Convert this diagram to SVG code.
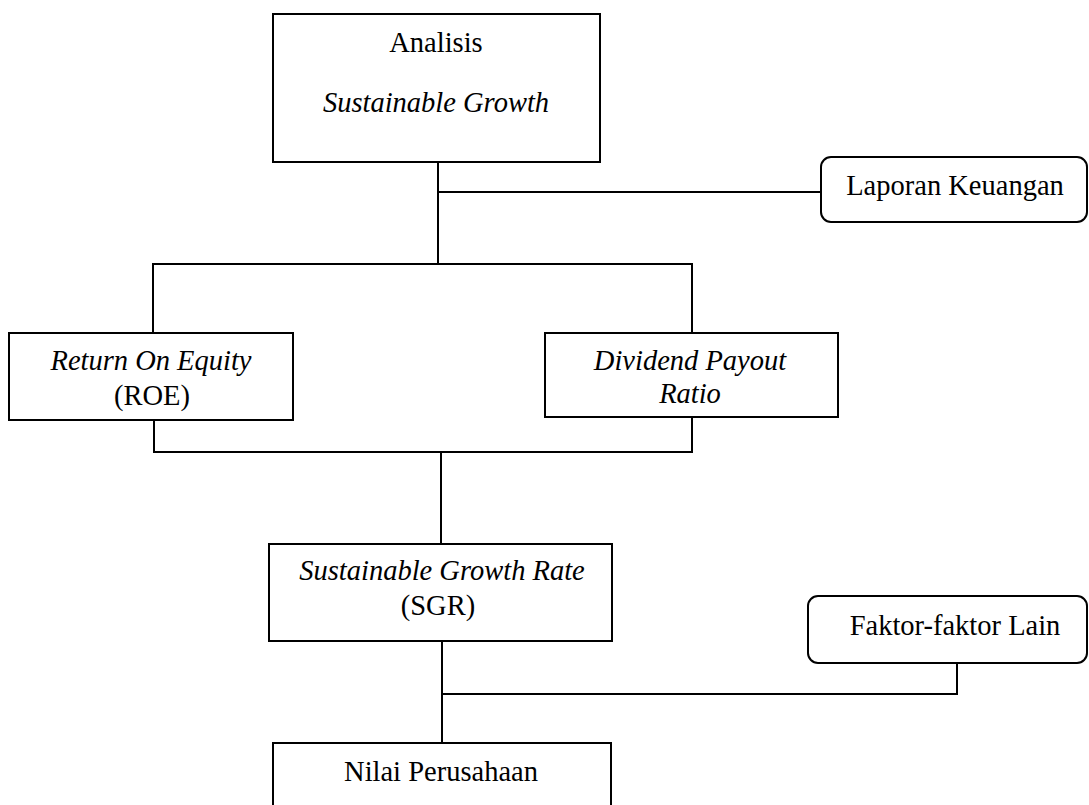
<svg xmlns="http://www.w3.org/2000/svg" width="1089" height="805" viewBox="0 0 1089 805" font-family="'Liberation Serif', 'Times New Roman', Times, serif">
<style>
.box{fill:#fff;stroke:#000;stroke-width:2}
.ln{fill:none;stroke:#000;stroke-width:2}
text{font-size:28.5px;fill:#000;text-anchor:middle}
.i{font-style:italic}
</style>
<rect width="1089" height="805" fill="#fff"/>
<g id="connectors">
<path class="ln" d="M438 162V264M438 192H821M153 333V264H692V333"/>
<path class="ln" d="M154 420V452H692V417M441 452V544"/>
<path class="ln" d="M442 641V743M442 694H957V663"/>
</g>
<g id="analisis">
<rect class="box" x="273" y="14" width="327" height="148"/>
<text x="436" y="52">Analisis</text>
<text class="i" x="436" y="112">Sustainable Growth</text>
</g>
<g id="laporan">
<rect class="box" x="821" y="157" width="266" height="65" rx="10"/>
<text x="955" y="195">Laporan Keuangan</text>
</g>
<g id="roe">
<rect class="box" x="9" y="333" width="284" height="87"/>
<text class="i" x="151" y="370">Return On Equity</text>
<text x="152" y="405">(ROE)</text>
</g>
<g id="dpr">
<rect class="box" x="545" y="333" width="293" height="84"/>
<text class="i" x="690" y="370">Dividend Payout</text>
<text class="i" x="690" y="403">Ratio</text>
</g>
<g id="sgr">
<rect class="box" x="269" y="544" width="343" height="97"/>
<text class="i" x="442" y="580">Sustainable Growth Rate</text>
<text x="438" y="615">(SGR)</text>
</g>
<g id="faktor">
<rect class="box" x="808" y="596" width="279" height="67" rx="10"/>
<text x="955" y="635">Faktor-faktor Lain</text>
</g>
<g id="nilai">
<rect class="box" x="273" y="743" width="338" height="80"/>
<text x="441" y="781">Nilai Perusahaan</text>
</g>
</svg>
